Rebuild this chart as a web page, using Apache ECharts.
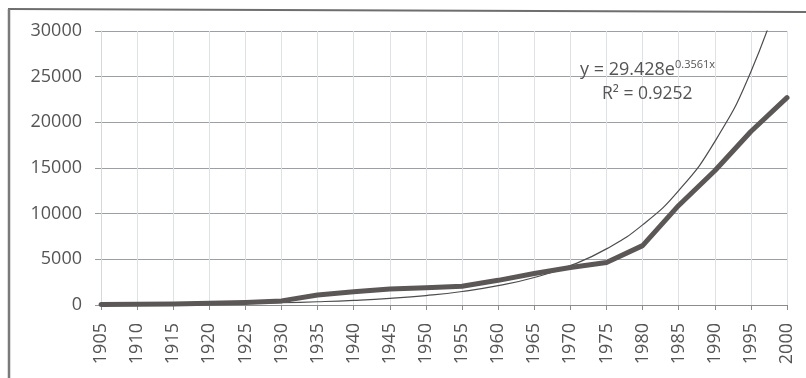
<!DOCTYPE html>
<html>
<head>
<meta charset="utf-8">
<script src="https://cdn.jsdelivr.net/npm/echarts@6/dist/echarts.min.js"></script>
<style>
  html, body { margin: 0; padding: 0; background: #ffffff; }
  #chart { width: 806px; height: 378px; }
</style>
</head>
<body>
<div id="chart"></div>
<script>
// Years on the horizontal axis
const years = ['1905', '1910', '1915', '1920', '1925', '1930', '1935', '1940', '1945', '1950',
               '1955', '1960', '1965', '1970', '1975', '1980', '1985', '1990', '1995', '2000'];

// Observed values per year
const values = [50, 80, 120, 180, 280, 450, 1100, 1450, 1750, 1900,
                2050, 2700, 3450, 4100, 4650, 6500, 10900, 14700, 19000, 22700];

// Exponential trendline values per year (runs past the top of the axis at the end)
const trendValues = [42, 60, 86, 122, 175, 249, 356, 508, 726, 1036,
                     1479, 2112, 3015, 4305, 6146, 8775, 12528, 17887, 25538, 36462];

// Trendline equation text
const trendCoefA = '29.428';
const trendCoefB = '0.3561';
const rSquared = '0.9252';

const yMax = 30000;
const yStep = 5000;

const FONT = '"Open Sans", "Liberation Sans", sans-serif';
const TEXT_COLOR = '#555555';

const chart = echarts.init(document.getElementById('chart'), null, { renderer: 'canvas' });

chart.setOption({
  animation: false,
  backgroundColor: '#ffffff',
  grid: { left: 101, right: 19, top: 31, bottom: 73, containLabel: false },
  xAxis: {
    type: 'category',
    data: years,
    boundaryGap: false,
    axisLine: { show: true, lineStyle: { color: '#8c8c8c', width: 1 } },
    axisTick: { show: true, length: 5, interval: 0, lineStyle: { color: '#8c8c8c' } },
    axisLabel: {
      rotate: 90,
      interval: 0,
      margin: 18,
      fontFamily: FONT,
      fontSize: 18,
      color: TEXT_COLOR
    },
    splitLine: { show: true, interval: 0, lineStyle: { color: '#dde2e6', width: 1 } }
  },
  yAxis: {
    type: 'value',
    min: 0,
    max: yMax,
    interval: yStep,
    axisLine: { show: true, lineStyle: { color: '#d4d9dc', width: 1 } },
    axisTick: { show: true, length: 6, lineStyle: { color: '#9a9a9a' } },
    axisLabel: {
      margin: 19,
      fontFamily: FONT,
      fontSize: 18,
      color: TEXT_COLOR,
      formatter: (v) => String(v)
    },
    splitLine: { show: true, lineStyle: { color: '#9c9fa3', width: 1 } }
  },
  series: [
    {
      name: 'trend',
      type: 'line',
      data: trendValues,
      smooth: true,
      symbol: 'none',
      clip: true,
      lineStyle: { color: '#4d4d4d', width: 1.2 },
      z: 2
    },
    {
      name: 'values',
      type: 'line',
      data: values,
      symbol: 'none',
      clip: true,
      lineStyle: { color: '#5c5757', width: 5, join: 'round', cap: 'round' },
      z: 3
    }
  ],
  graphic: [
    // frame around the chart area
    {
      type: 'line',
      shape: { x1: 8, y1: 9, x2: 806, y2: 12 },
      style: { stroke: '#6e6e6e', lineWidth: 2 },
      silent: true
    },
    {
      type: 'line',
      shape: { x1: 9, y1: 9, x2: 9, y2: 378 },
      style: { stroke: '#7a7a7a', lineWidth: 2.5 },
      silent: true
    },
    // trendline equation
    {
      type: 'text',
      x: 580,
      y: 70,
      z: 10,
      style: {
        text: '{a|y = ' + trendCoefA + 'e}{s|' + trendCoefB + 'x}',
        verticalAlign: 'middle',
        rich: {
          a: { fontFamily: FONT, fontSize: 18, fill: TEXT_COLOR },
          s: { fontFamily: FONT, fontSize: 11, fill: TEXT_COLOR, padding: [0, 0, 10, 0] }
        }
      }
    },
    {
      type: 'text',
      x: 602,
      y: 94,
      z: 10,
      style: {
        text: 'R\u00B2 = ' + rSquared,
        verticalAlign: 'middle',
        fontFamily: FONT,
        fontSize: 17.5,
        fill: TEXT_COLOR
      }
    }
  ]
});
</script>
</body>
</html>
